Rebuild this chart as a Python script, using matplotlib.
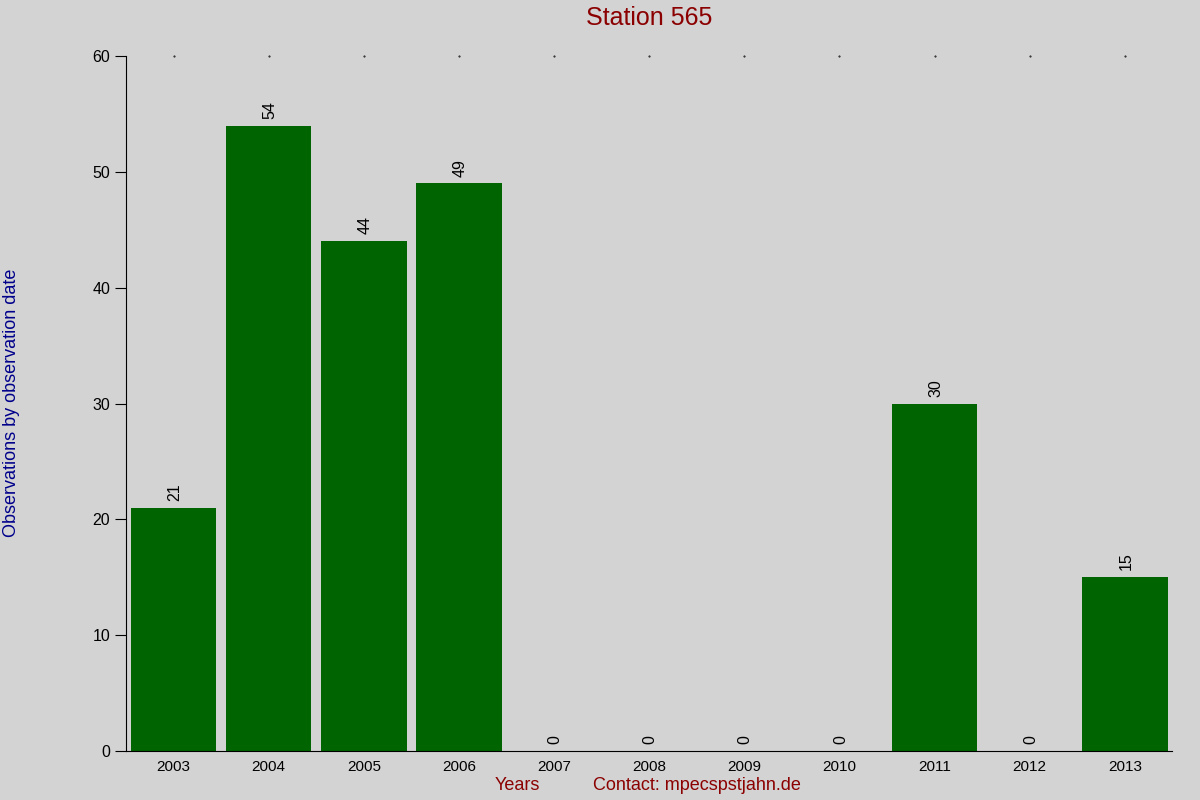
import matplotlib
matplotlib.use("Agg")
import matplotlib.pyplot as plt
import numpy as np

plt.rcParams['font.family'] = ['Liberation Sans', 'DejaVu Sans']

years = ['2003', '2004', '2005', '2006', '2007', '2008', '2009', '2010', '2011', '2012', '2013']
counts = [21, 54, 44, 49, 0, 0, 0, 0, 30, 0, 15]

bg = '#d3d3d3'
fig = plt.figure(figsize=(12, 8), dpi=100, facecolor=bg)
ax = fig.add_axes([0.105, 0.061, 0.872, 0.869], facecolor=bg)

x = np.arange(len(years))
ax.bar(x, counts, width=0.9, color='#006400')

# value labels above bars
for xi, v in zip(x, counts):
    ax.text(xi + 0.01, v + 0.6, str(v), rotation=90, ha='center', va='bottom', fontsize=11.5)

ax.set_xlim(-0.5, len(years) - 0.5)
ax.set_ylim(0, 60)
ax.set_yticks(range(0, 61, 10))
ax.set_xticks(x)
ax.set_xticklabels(years, fontsize=11)
ax.tick_params(axis='y', labelsize=11.5, length=8, direction='out')
ax.tick_params(axis='x', length=0, pad=6)
ax.spines['top'].set_visible(False)
ax.spines['right'].set_visible(False)

# tiny dots at the top of each category
for xi in x:
    ax.plot(xi, 60, marker='.', markersize=0.9, color='black', clip_on=False)

fig.text(0.541, 0.977, 'Station 565', color='#8b0000', fontsize=18, ha='center', va='center')
fig.text(0.010, 0.497, 'Observations by observation date', color='#00008b', fontsize=13,
         rotation=90, ha='center', va='center')
fig.text(0.431, 0.018, 'Years', color='#8b0000', fontsize=13, ha='center', va='center')
fig.text(0.581, 0.018, 'Contact: mpecspstjahn.de', color='#8b0000', fontsize=13, ha='center', va='center')

fig.savefig('out.png', dpi=100, facecolor=bg)
